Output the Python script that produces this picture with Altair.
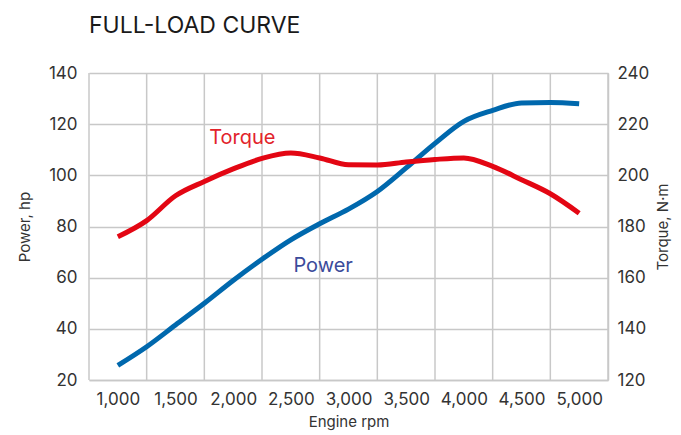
import altair as alt
import pandas as pd

rpm = [1000, 1250, 1500, 1750, 2000, 2250, 2500, 2750, 3000, 3250, 3500, 3750, 4000, 4250, 4500, 4750, 5000]
power = [25.7, 33.0, 41.5, 50.0, 58.9, 67.2, 74.8, 81.1, 86.8, 93.7, 102.9, 112.5, 121.1, 125.4, 128.3, 128.5, 128.0]
torque = [176.0, 182.3, 192.0, 197.6, 202.5, 206.6, 208.7, 206.8, 204.1, 204.0, 205.2, 206.2, 206.8, 203.5, 198.3, 192.8, 185.2]
x_ticks = [1000, 1500, 2000, 2500, 3000, 3500, 4000, 4500, 5000]
x_grid = [750, 1250, 1750, 2250, 2750, 3250, 3750, 4250, 4750, 5250]

FONT = "Inter"
RED = "#e30613"
BLUE = "#0068ad"
GRID = "#c8c8c8"

df = pd.DataFrame({"rpm": rpm, "power": power, "torque": torque})
grid_df = pd.DataFrame({"g": x_grid})
lab_t = pd.DataFrame({"rpm": [2080], "v": [214.7], "t": ["Torque"]})
lab_p = pd.DataFrame({"rpm": [2780], "v": [64.6], "t": ["Power"]})

xscale = alt.Scale(domain=[750, 5250], nice=False, zero=False)
xaxis = alt.Axis(values=x_ticks, format=",.0f", grid=False, ticks=False, labelPadding=11,
                 title="Engine rpm", titlePadding=7, domainColor=GRID, domainWidth=1.5)
yl_scale = alt.Scale(domain=[20, 140], nice=False, zero=False)
yr_scale = alt.Scale(domain=[120, 240], nice=False, zero=False)

gridrules = alt.Chart(grid_df).mark_rule(color=GRID, strokeWidth=1.5).encode(
    x=alt.X("g:Q", scale=xscale, axis=xaxis)
)

pw = alt.Chart(df).mark_line(color=BLUE, strokeWidth=5, interpolate="monotone").encode(
    x=alt.X("rpm:Q", scale=xscale, axis=xaxis),
    y=alt.Y("power:Q", scale=yl_scale,
            axis=alt.Axis(values=[20, 40, 60, 80, 100, 120, 140], grid=True, gridColor=GRID,
                          gridWidth=1.5, ticks=False, domain=False, labelPadding=12,
                          title="Power, hp", titlePadding=16)),
)
pl = alt.Chart(lab_p).mark_text(color="#3b4b9b", fontSize=20, font=FONT).encode(
    x=alt.X("rpm:Q", scale=xscale, axis=xaxis),
    y=alt.Y("v:Q", scale=yl_scale),
    text="t:N",
)
left = alt.layer(gridrules, pw, pl)

tq = alt.Chart(df).mark_line(color=RED, strokeWidth=5, interpolate="monotone").encode(
    x=alt.X("rpm:Q", scale=xscale, axis=xaxis),
    y=alt.Y("torque:Q", scale=yr_scale,
            axis=alt.Axis(orient="right", values=[120, 140, 160, 180, 200, 220, 240], grid=False,
                          ticks=False, domainColor=GRID, domainWidth=1.5, labelPadding=9,
                          title="Torque, N·m", titlePadding=22, titleAngle=270,
                          titleBaseline="bottom")),
)
tl = alt.Chart(lab_t).mark_text(color="#e2232b", fontSize=20, font=FONT).encode(
    x=alt.X("rpm:Q", scale=xscale, axis=xaxis),
    y=alt.Y("v:Q", scale=yr_scale),
    text="t:N",
)
right = alt.layer(tq, tl)

chart = alt.layer(left, right).resolve_scale(y="independent").properties(
    width=519, height=307,
    title=alt.TitleParams("FULL-LOAD CURVE", anchor="start", frame="group", fontSize=23,
                          font=FONT, fontWeight="normal", color="#1a1a1a", offset=26),
    autosize=alt.AutoSizeParams(type="none"),
    padding={"left": 81, "top": 65, "right": 65, "bottom": 51},
).configure_view(stroke=None).configure_axis(
    labelFont=FONT, labelFontSize=17, labelColor="#333333",
    titleFont=FONT, titleFontSize=15, titleFontWeight="normal", titleColor="#333333",
)

chart.save("out.html", embed_options={"renderer": "svg", "actions": False})
